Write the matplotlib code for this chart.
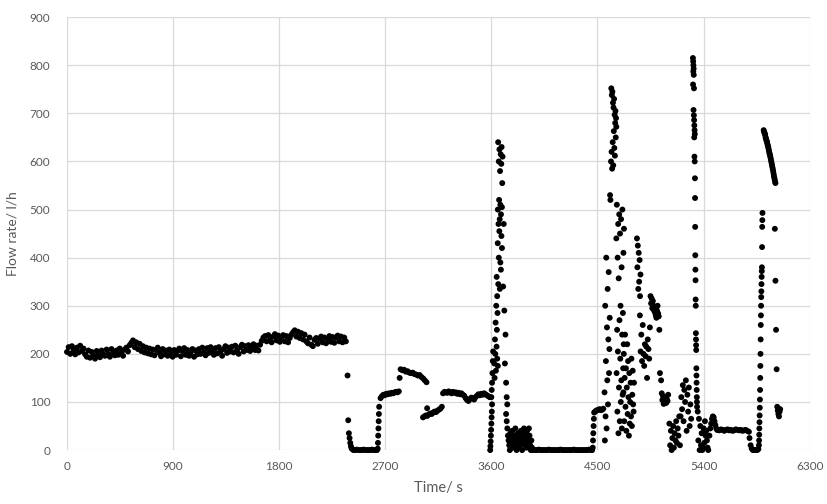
import numpy as np
import matplotlib
matplotlib.use("Agg")
import matplotlib.pyplot as plt

# ---------------- data (time in s, flow rate in l/h) ----------------
# steady phase, sampled every 14 s from 0 s
steady_start, steady_step = 0, 14
steady_vals = [
    204,214,200,216,207,199,213,203,217,206,
    211,199,194,207,192,204,197,190,206,198,
    193,207,199,196,209,200,194,210,201,197,
    207,198,211,203,196,209,213,205,218,223,
    228,214,224,210,221,206,216,203,213,201,
    211,199,209,197,208,213,202,195,210,199,
    207,196,209,201,194,208,198,206,211,195,
    206,212,198,208,196,203,210,194,207,199,
    210,200,213,203,197,212,202,214,205,198,
    212,201,214,204,196,210,216,202,213,205,
    215,203,217,207,200,214,219,205,216,208,
    218,206,216,220,208,217,207,219,227,234,
    237,226,239,229,224,236,241,228,238,225,
    235,239,226,237,224,233,240,245,249,236,
    246,233,243,230,240,226,222,234,219,216,
    229,233,221,232,236,224,234,222,232,237,
    225,235,223,234,238,226,236,224,234,226,
]

# later segments: (first time, last time, values sampled evenly between)
seg_drop      = (2380, 2420, [155, 62, 35, 25, 15, 8, 4, 2])
seg_zero1     = (2430, 2630, [0, 0, 1, 0, 0, 0, 1, 0, 0, 0, 0, 1, 0, 0, 0])
seg_rise1     = (2636, 2648, [3, 15, 30, 45, 60, 75, 90])
seg_plat120a  = (2660, 2815, [108,112,115,114,117,116,118,117,119,118,120,121,120,122])
seg_pt150     = (2822, 2822, [150])
seg_plat160   = (2830, 3050, [168,166,167,163,164,161,160,161,158,157,155,156,152,149,145,141])
seg_pt87      = (3055, 3055, [87])
seg_plat80    = (3020, 3180, [68,70,72,71,74,76,75,78,80,79,82,84,86,90])
seg_plat120b  = (3190, 3586, [118,121,120,119,122,120,118,121,119,120,117,119,116,118,115,113,
                              108,104,102,106,109,107,105,
                              110,113,116,114,117,115,118,116,114,112,110])
seg_sp1_low   = (3590, 3606, [0, 8, 18, 30, 42, 55, 68, 80, 95])
seg_sp1_low2  = (3600, 3615, [110, 125, 140, 160, 185, 205])
seg_sp1_a     = (3625, 3655, [180, 150, 230, 200, 265, 165, 300, 215, 250, 190, 285, 175])
seg_sp1_b     = (3645, 3690, [360, 320, 430, 345, 400, 455, 335, 390, 375, 445, 420])
seg_sp1_c     = (3655, 3695, [500, 640, 470, 600, 520, 625, 480, 580, 510, 615, 490, 595, 630, 505, 555, 610])
seg_sp1_d     = (3700, 3735, [340, 470, 290, 180, 240, 140, 110, 95])
seg_scatter1  = (3725, 3950, [75,60,45,30,20,10,0,35,25,15,40,5,20,30,10,45,25,0,15,35,20,5,30,
                              10,40,25,0,15,35,45,20,10,30,5,40,25,15,45,30,10,0,20,5,0])
seg_zero2     = (3960, 4455, [0,0,0,1,0,0,0,0,0,1,0,0,0,0,0,0,1,0,0,0,0,0,0,0,1,0,0,0,0,0,0,0,0,1,0,0])
seg_rise2     = (4460, 4472, [5, 20, 35, 50, 65, 78])
seg_plat85    = (4480, 4550, [80, 82, 83, 84, 85, 83, 84, 86])
seg_f1        = (4560, 4610, [120,20,300,70,185,400,45,255,145,335,95,230,370,160,210,275,530,520])
seg_f2        = (4615, 4660, [600,752,620,738,585,745,640,722,592,712,663,730,628,697,612,680,705,650,690,672])
seg_f3        = (4660, 4725, [440,160,510,250,80,400,205,470,35,357,130,490,270,60,450,190,300,100,480,
                              145,380,45,240,500,115,285,170,410,220,460])
seg_f4        = (4720, 4810, [120,200,60,150,240,90,170,40,130,220,75,185,110,30,160,55,100,140,70,190,
                              50,115,165,95,80,140])
seg_f5        = (4835, 4865, [440,380,425,335,410,350,395,320,365])
seg_f6        = (4860, 4945, [280,205,240,185,260,200,175,220,195,215,150,230,210,190,255])
seg_f7        = (4950, 5030, [320,305,315,295,310,300,290,298,285,280,275,290,300,284,278,250,160])
seg_f8        = (5040, 5100, [145,118,104,112,96,108,100,110,98,105,102,115])
seg_f9        = (5110, 5200, [55,10,40,0,25,50,5,35,20,60,15,45,30,70,10])
seg_f10       = (5205, 5295, [70,110,85,135,60,125,100,145,40,115,80,130,50,95,65])
seg_f11       = (5310, 5345, [815,760,808,787,800,707,793,780,696,752,686,650,675,610,665,600,657,565,
                              524,464,405,375,353,313,300,243,230,218,208,170,155,140,125,110,100,90])
seg_f12       = (5350, 5440, [80,20,65,0,50,10,35,0,5,45,15,60,30,40,20,5,0])
seg_f13       = (5450, 5515, [30,45,55,65,70,68,60,52,45,42])
seg_f14       = (5520, 5785, [42,41,43,42,40,42,43,41,42,40,41,43,42,41,42,40,41,42,40,38])
seg_f15       = (5790, 5865, [25,10,3,0,0,0,0,0,2])
seg_f16       = (5870, 5900, [10,20,32,45,58,72,88,105,125,150,175,200,230,260,280,300,318,330,345,360,
                              372,380,422,464,478,493])
seg_f17       = (5910, 6010, [665,662,660,658,655,650,648,645,642,640,636,633,630,626,622,618,615,612,
                              608,604,600,596,592,588,584,580,575,570,566,562,558,555])
seg_f18       = (6005, 6050, [460,352,250,168,90,82,75,70,80,85])

segments = [seg_drop, seg_zero1, seg_rise1, seg_plat120a, seg_pt150, seg_plat160, seg_pt87,
            seg_plat80, seg_plat120b, seg_sp1_low, seg_sp1_low2, seg_sp1_a, seg_sp1_b, seg_sp1_c,
            seg_sp1_d, seg_scatter1, seg_zero2, seg_rise2, seg_plat85, seg_f1, seg_f2, seg_f3,
            seg_f4, seg_f5, seg_f6, seg_f7, seg_f8, seg_f9, seg_f10, seg_f11, seg_f12, seg_f13,
            seg_f14, seg_f15, seg_f16, seg_f17, seg_f18]

x_ticks = [0, 900, 1800, 2700, 3600, 4500, 5400, 6300]
y_ticks = [0, 100, 200, 300, 400, 500, 600, 700, 800, 900]

# ---------------- assemble ----------------
times = [steady_start + steady_step * np.arange(len(steady_vals))]
vals = [np.array(steady_vals, dtype=float)]
for t0, t1, v in segments:
    times.append(np.linspace(t0, t1, len(v)))
    vals.append(np.array(v, dtype=float))
t_all = np.concatenate(times)
v_all = np.concatenate(vals)

# ---------------- plot ----------------
plt.rcParams['font.family'] = ['Lato', 'DejaVu Sans']
fig = plt.figure(figsize=(8.27, 5.04), dpi=100)
ax = fig.add_axes([0.081, 0.107, 0.898, 0.859])

ax.scatter(t_all, v_all, s=18, color='black', edgecolors='none', zorder=3, clip_on=False)

ax.set_xlim(0, 6300)
ax.set_ylim(0, 900)
ax.set_xticks(x_ticks)
ax.set_yticks(y_ticks)
ax.grid(True, color='#d9d9d9', linewidth=0.9)
ax.set_axisbelow(True)
for sp in ax.spines.values():
    sp.set_visible(False)
ax.tick_params(length=0, colors='#595959', labelsize=8.5)
ax.tick_params(axis='y', pad=12)
ax.tick_params(axis='x', pad=8)
ax.set_xlabel('Time/ s', color='#595959', fontsize=10.5, labelpad=6)
ax.set_ylabel('Flow rate/ l/h', color='#595959', fontsize=10, labelpad=8)

fig.savefig('out.png', dpi=100, facecolor='white')
